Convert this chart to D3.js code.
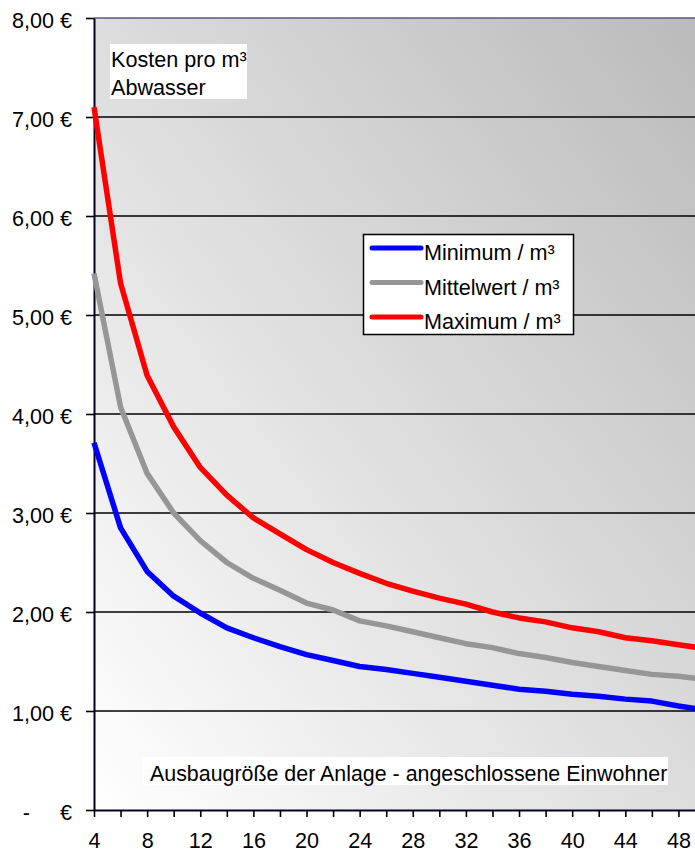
<!DOCTYPE html>
<html>
<head>
<meta charset="utf-8">
<script src="https://cdn.jsdelivr.net/npm/d3@7"></script>
<style>
  body { margin: 0; background: #fff; }
  svg { display: block; font-family: "Liberation Sans", Arial, sans-serif; }
  .lbl { white-space: pre; }
</style>
</head>
<body>
<svg id="chart" width="695" height="852"></svg>
<script>
// Angeschlossene Einwohner (category axis)
const einwohner = [4, 6, 8, 10, 12, 14, 16, 18, 20, 22, 24, 26, 28, 30, 32, 34, 36, 38, 40, 42, 44, 46, 48, 50];

// Kosten pro m³ Abwasser in €
const minimum    = [3.71, 2.85, 2.41, 2.16, 1.99, 1.84, 1.74, 1.65, 1.57, 1.51, 1.45, 1.42, 1.38, 1.34, 1.30, 1.26, 1.22, 1.20, 1.17, 1.15, 1.12, 1.10, 1.05, 1.01];
const mittelwert = [5.42, 4.07, 3.40, 3.00, 2.72, 2.50, 2.34, 2.22, 2.09, 2.02, 1.91, 1.86, 1.80, 1.74, 1.68, 1.64, 1.58, 1.54, 1.49, 1.45, 1.41, 1.37, 1.35, 1.32];
const maximum    = [7.10, 5.32, 4.39, 3.87, 3.46, 3.18, 2.95, 2.79, 2.63, 2.50, 2.39, 2.29, 2.21, 2.14, 2.08, 2.00, 1.94, 1.90, 1.84, 1.80, 1.74, 1.71, 1.67, 1.63];

const yTicks = [0, 1, 2, 3, 4, 5, 6, 7, 8];
const yTickLabels = ["-     €", "1,00 €", "2,00 €", "3,00 €", "4,00 €", "5,00 €", "6,00 €", "7,00 €", "8,00 €"];
const xTickLabels = ["4", "8", "12", "16", "20", "24", "28", "32", "36", "40", "44", "48"];

const seriesNames = ["Minimum / m³", "Mittelwert / m³", "Maximum / m³"];
const seriesColors = ["#0000ff", "#969696", "#ff0000"];
const seriesValues = [minimum, mittelwert, maximum];

const titleLines = ["Kosten pro m³", "Abwasser"];
const xTitle = "Ausbaugröße der Anlage - angeschlossene Einwohner";

const FS = 21.6;

const svg = d3.select("#chart");
const plot = { left: 94, top: 18, right: 705, bottom: 810 };

const x = d3.scalePoint().domain(einwohner).range([plot.left, plot.right]);
const y = d3.scaleLinear().domain([0, 8]).range([plot.bottom, plot.top]);

// diagonal background: white bottom-left to grey top-right
const defs = svg.append("defs");
const grad = defs.append("linearGradient")
  .attr("id", "bg").attr("x1", 0).attr("y1", 1).attr("x2", 1).attr("y2", 0);
grad.append("stop").attr("offset", 0).attr("stop-color", "#ffffff");
grad.append("stop").attr("offset", 1).attr("stop-color", "#bababa");

svg.append("rect")
  .attr("x", plot.left).attr("y", plot.top)
  .attr("width", plot.right - plot.left).attr("height", plot.bottom - plot.top)
  .attr("fill", "url(#bg)");

// horizontal gridlines
svg.append("g").selectAll("line")
  .data(yTicks.filter(d => d > 0))
  .join("line")
  .attr("x1", plot.left).attr("x2", plot.right)
  .attr("y1", d => y(d)).attr("y2", d => y(d))
  .attr("stroke", d => d === 8 ? "#5a5a80" : "#000")
  .attr("stroke-width", 1.6);

// value axis
const yAxis = svg.append("g")
  .attr("transform", `translate(${plot.left},0)`)
  .call(d3.axisLeft(y).tickValues(yTicks)
    .tickFormat((d, i) => yTickLabels[i])
    .tickSize(8).tickSizeOuter(0).tickPadding(14));
yAxis.select(".domain").attr("stroke", "#000022").attr("stroke-width", 2);
yAxis.selectAll(".tick line").attr("stroke", "#000").attr("stroke-width", 1.6);
yAxis.selectAll(".tick text")
  .attr("class", "lbl")
  .attr("fill", "#000").attr("font-size", FS)
  .attr("dy", "0.42em");
yAxis.attr("font-family", null);

// category axis
const xAxis = svg.append("g")
  .attr("transform", `translate(0,${plot.bottom})`)
  .call(d3.axisBottom(x).tickValues(einwohner)
    .tickFormat(d => xTickLabels.includes(String(d)) ? String(d) : "")
    .tickSize(7).tickSizeOuter(0).tickPadding(16));
xAxis.select(".domain").attr("stroke", "#000022").attr("stroke-width", 2);
xAxis.selectAll(".tick line").attr("stroke", "#000").attr("stroke-width", 1.6);
xAxis.selectAll(".tick text").attr("fill", "#000").attr("font-size", FS);
xAxis.attr("font-family", null);

// series lines
const line = d3.line().x(d => x(d[0])).y(d => y(d[1]));
svg.append("g").selectAll("path")
  .data(seriesValues.map((vals, i) => ({ color: seriesColors[i], pts: einwohner.map((e, j) => [e, vals[j]]) })))
  .join("path")
  .attr("d", d => line(d.pts))
  .attr("fill", "none")
  .attr("stroke", d => d.color)
  .attr("stroke-width", 5.5)
  .attr("stroke-linejoin", "round");

// chart title box
const tb = svg.append("g");
tb.append("rect").attr("x", 110).attr("y", 44).attr("width", 137).attr("height", 55).attr("fill", "#fff");
tb.selectAll("text").data(titleLines).join("text")
  .attr("x", 111).attr("y", (d, i) => 67 + i * 28)
  .attr("font-size", FS).attr("fill", "#000")
  .text(d => d);

// legend
const lg = svg.append("g");
lg.append("rect").attr("x", 363.5).attr("y", 234.5).attr("width", 210).attr("height", 100)
  .attr("fill", "#fff").attr("stroke", "#000").attr("stroke-width", 1.5);
const items = lg.selectAll("g.item").data(seriesNames).join("g").attr("class", "item")
  .attr("transform", (d, i) => `translate(0,${248 + i * 34.5})`);
items.append("line").attr("x1", 372).attr("x2", 421).attr("y1", 0).attr("y2", 0)
  .attr("stroke", (d, i) => seriesColors[i]).attr("stroke-width", 5).attr("stroke-linecap", "round");
items.append("text").attr("x", 424).attr("y", 12).attr("font-size", FS).attr("fill", "#000").text(d => d);

// category axis title box
const xt = svg.append("g");
xt.append("rect").attr("x", 143).attr("y", 757).attr("width", 525).attr("height", 28).attr("fill", "#fff");
xt.append("text").attr("x", 150).attr("y", 781).attr("font-size", 21.4).attr("fill", "#000").text(xTitle);
</script>
</body>
</html>
